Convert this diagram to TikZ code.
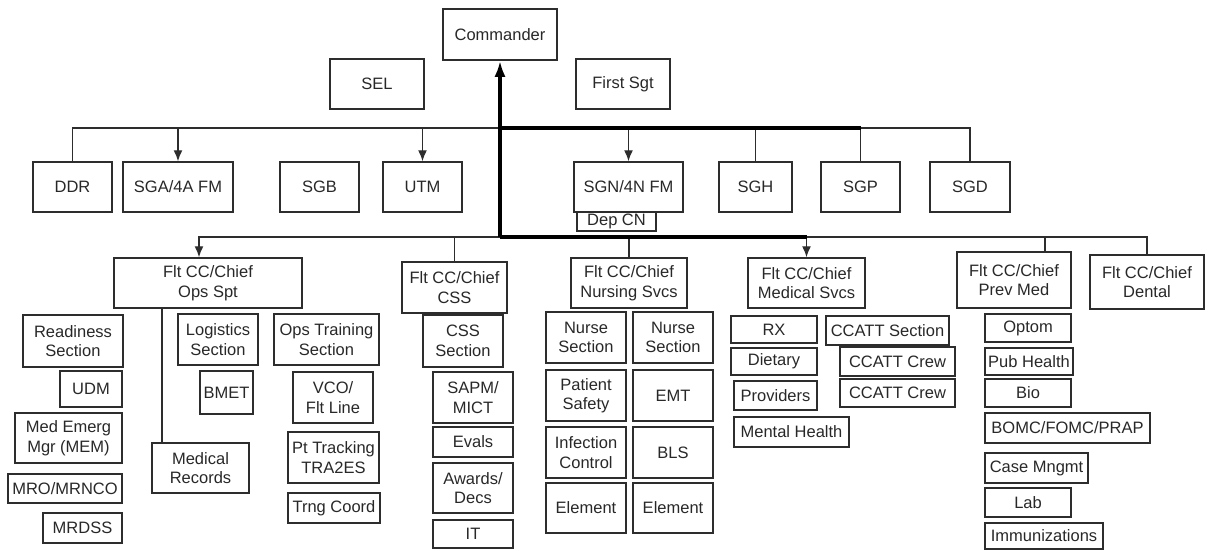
\documentclass[tikz,border=0pt]{standalone}
\usepackage{fontspec}
\setmainfont{Liberation Sans}
\usepackage{tikz}
\usetikzlibrary{arrows.meta, calc}
\definecolor{myline}{RGB}{45, 45, 45}
\definecolor{mytext}{RGB}{40, 40, 40}
\tikzset{>={Latex[length=11pt, width=9pt]}}
\tikzset{unit/.style={draw = myline, line width = 1.5pt, inner sep = 0pt, align = center,
  text = mytext, font = \fontsize{16.5}{19.5}\selectfont}}
\tikzset{link/.style={draw = myline, line width = 1.4pt}}
\tikzset{spine/.style={draw = black, line width = 3.6pt}}
% box from its two corners (x1,y1) (x2,y2), in pixels of the chart
\newcommand{\orgbox}[6]{\node[unit, minimum width = {#4-#2}, minimum height = {#5-#3}]
  (#1) at ({(#2+#4)/2}, {(#3+#5)/2}) {#6};}

\begin{document}
\begin{tikzpicture}[x = 1pt, y = -1pt]
\useasboundingbox (0, 0) rectangle (1209, 550);
\orgbox{cmdr}{443}{9}{557}{60}{Commander}
\orgbox{sel}{330}{59}{424}{109}{SEL}
\orgbox{fsgt}{576}{59}{670}{109}{First Sgt}

\orgbox{ddr}{33}{162}{112}{212}{DDR}
\orgbox{sga}{123}{162}{233}{212}{SGA/4A FM}
\orgbox{sgb}{280}{162}{359}{212}{SGB}
\orgbox{utm}{383}{162}{462}{212}{UTM}
\orgbox{sgn}{574}{162}{683}{212}{SGN/4N FM}
\orgbox{sgh}{719}{162}{792}{212}{SGH}
\orgbox{sgp}{821}{162}{900}{212}{SGP}
\orgbox{sgd}{930}{162}{1010}{212}{SGD}
\orgbox{depcn}{577}{212}{656}{231}{Dep CN}

\orgbox{opsspt}{114}{258}{302}{308}{Flt CC/Chief\\Ops Spt}
\orgbox{ready}{23}{315}{123}{367}{Readiness\\Section}
\orgbox{udm}{60}{371}{122}{407}{UDM}
\orgbox{mem}{15}{413}{122}{463}{Med Emerg\\Mgr (MEM)}
\orgbox{mro}{8}{474}{122}{503}{MRO/MRNCO}
\orgbox{mrdss}{43}{513}{122}{543}{MRDSS}
\orgbox{medrec}{152}{443}{249}{493}{Medical\\Records}
\orgbox{logsec}{178}{314}{258}{365}{Logistics\\Section}
\orgbox{bmet}{200}{371}{253}{414}{BMET}
\orgbox{opstrn}{274}{314}{379}{365}{Ops Training\\Section}
\orgbox{vco}{293}{372}{373}{423}{VCO/\\Flt Line}
\orgbox{pttrack}{288}{432}{379}{483}{Pt Tracking\\TRA2ES}
\orgbox{trng}{288}{493}{380}{523}{Trng Coord}

\orgbox{css}{402}{262}{507}{313}{Flt CC/Chief\\CSS}
\orgbox{csssec}{423}{315}{503}{367}{CSS\\Section}
\orgbox{sapm}{433}{372}{513}{423}{SAPM/\\MICT}
\orgbox{evals}{433}{427}{513}{457}{Evals}
\orgbox{awards}{433}{463}{513}{513}{Awards/\\Decs}
\orgbox{it}{433}{520}{513}{548}{IT}

\orgbox{nursing}{571}{258}{687}{308}{Flt CC/Chief\\Nursing Svcs}
\orgbox{nurseA}{546}{312}{626}{363}{Nurse\\Section}
\orgbox{nurseB}{633}{312}{713}{363}{Nurse\\Section}
\orgbox{patient}{546}{370}{626}{421}{Patient\\Safety}
\orgbox{emt}{633}{370}{713}{421}{EMT}
\orgbox{infect}{546}{427}{626}{478}{Infection\\Control}
\orgbox{bls}{633}{427}{713}{478}{BLS}
\orgbox{elemA}{546}{483}{626}{533}{Element}
\orgbox{elemB}{633}{483}{713}{533}{Element}

\orgbox{medsvcs}{748}{258}{865}{308}{Flt CC/Chief\\Medical Svcs}
\orgbox{rx}{731}{316}{817}{343}{RX}
\orgbox{dietary}{731}{348}{817}{375}{Dietary}
\orgbox{providers}{734}{381}{817}{410}{Providers}
\orgbox{mental}{734}{417}{849}{447}{Mental Health}
\orgbox{ccattsec}{826}{316}{949}{345}{CCATT Section}
\orgbox{crewA}{840}{347}{955}{376}{CCATT Crew}
\orgbox{crewB}{840}{379}{955}{407}{CCATT Crew}

\orgbox{prevmed}{957}{252}{1071}{308}{Flt CC/Chief\\Prev Med}
\orgbox{dental}{1090}{255}{1204}{309}{Flt CC/Chief\\Dental}
\orgbox{optom}{985}{314}{1071}{342}{Optom}
\orgbox{pubhealth}{985}{348}{1073}{375}{Pub Health}
\orgbox{bio}{985}{379}{1071}{407}{Bio}
\orgbox{bomc}{985}{413}{1150}{443}{BOMC/FOMC/PRAP}
\orgbox{casemg}{985}{453}{1088}{483}{Case Mngmt}
\orgbox{lab}{985}{488}{1071}{517}{Lab}
\orgbox{immun}{985}{523}{1103}{549}{Immunizations}

\coordinate (hub) at (500, 128);
\coordinate (base) at (500, 237);
\coordinate (opsin) at ([xshift = -9]opsspt.north);
\coordinate (previn) at ([xshift = 31]prevmed.north);
\coordinate (recout) at ([xshift = -46]opsspt.south);
\draw[link] (ddr.north) |- (hub);
\draw[link] (hub -| sgp.north) -| (sgd.north);
\draw[link, ->] (hub -| sga.north) -- (sga.north);
\draw[link, ->] (hub -| utm.north) -- (utm.north);
\draw[link, ->] (hub -| sgn.north) -- (sgn.north);
\draw[link] (hub -| sgh.north) -- (sgh.north);
\draw[link] (hub -| sgp.north) -- (sgp.north);
\draw[link, ->] (base) -| (opsin);
\draw[link] (base -| medsvcs.north) -| (dental.north);
\draw[link] (base -| css.north) -- (css.north);
\draw[link] (base -| nursing.north) -- (nursing.north);
\draw[link, ->] (base -| medsvcs.north) -- (medsvcs.north);
\draw[link] (base -| previn) -- (previn);
\draw[link] (recout) -- (recout |- medrec.north);
\draw[spine] (hub) -- (hub -| sgp.north);
\draw[spine] (base) -- (base -| medsvcs.north);
\draw[spine, -{Latex[length = 16pt, width = 11pt]}] (base) -- (cmdr.south);
\end{tikzpicture}
\end{document}
